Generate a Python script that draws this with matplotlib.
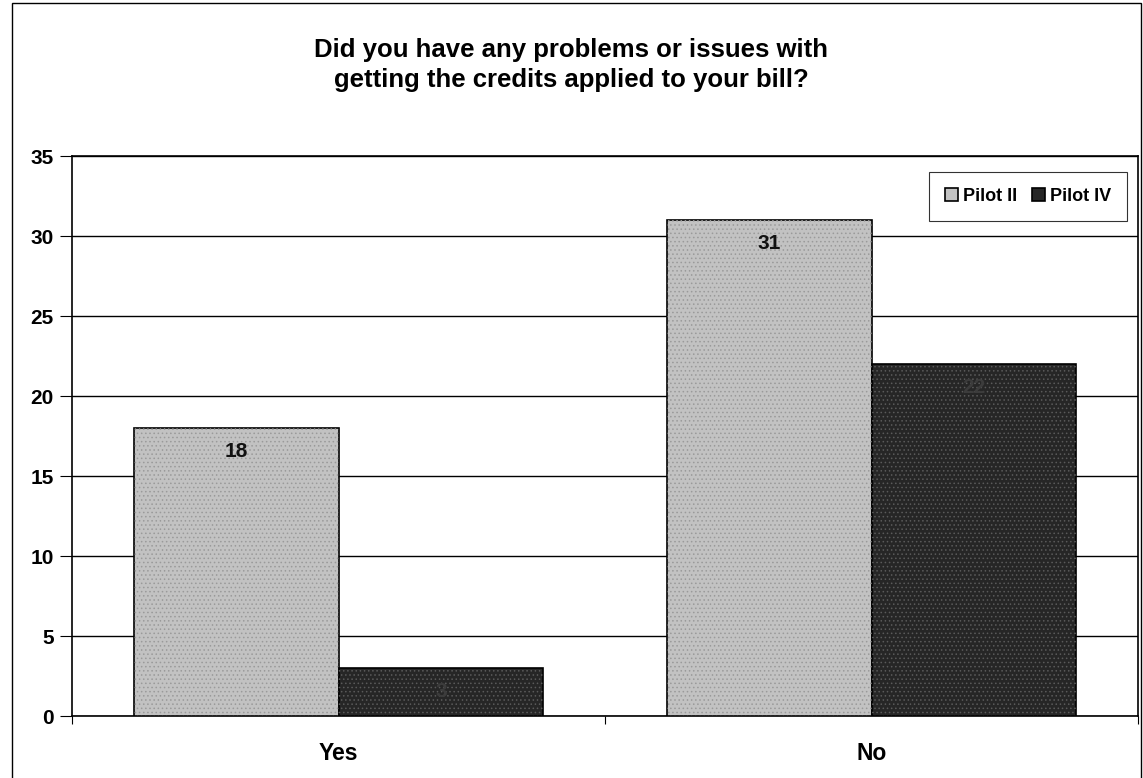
import matplotlib.pyplot as plt
import numpy as np
from matplotlib.patches import Rectangle

plt.rcParams["font.family"] = ["Liberation Sans", "DejaVu Sans"]
plt.rcParams["font.weight"] = "bold"
plt.rcParams["hatch.linewidth"] = 0.6

categories = ["Yes", "No"]
pilot_ii = [18, 31]
pilot_iv = [3, 22]
series_names = ["Pilot II", "Pilot IV"]
yticks = [0, 5, 10, 15, 20, 25, 30, 35]
title_lines = ["Did you have any problems or issues with",
               "getting the credits applied to your bill?"]

W, H = 1143, 778
fig = plt.figure(figsize=(W / 100, H / 100), dpi=100)
ax = fig.add_axes([72 / W, 1 - 716 / H, (1138 - 72) / W, (716 - 156) / H])

x = np.arange(len(categories))
bw = 0.3846
light = "#c2c2c2"
dark = "#262626"
b1 = ax.bar(x - bw / 2, pilot_ii, bw, color=light, edgecolor="black", lw=1.2,
            label=series_names[0], zorder=3)
b2 = ax.bar(x + bw / 2, pilot_iv, bw, color=dark, edgecolor="black", lw=1.2,
            label=series_names[1], zorder=3)
# speckled scan texture on top of the flat fills
ax.bar(x - bw / 2, pilot_ii, bw, fill=False, hatch="....", edgecolor="#9a9a9a", lw=0, zorder=3.5)
ax.bar(x + bw / 2, pilot_iv, bw, fill=False, hatch="....", edgecolor="#5a5a5a", lw=0, zorder=3.5)

# value labels sit just inside the bar top
for bars, vals, col in ((b1, pilot_ii, "#111111"), (b2, pilot_iv, "#3c3c3c")):
    for r, v in zip(bars, vals):
        ax.text(r.get_x() + r.get_width() / 2, v - 0.85, f"{v}", ha="center", va="top",
                fontsize=15, fontweight="bold", color=col, zorder=4)

ax.set_xlim(-0.5, 1.5)
ax.set_ylim(0, 35)
ax.set_yticks(yticks)
ax.set_yticklabels([str(t) for t in yticks], fontsize=15, fontweight="bold")
ax.set_xticks(x)
ax.set_xticklabels(categories, fontsize=16.5, fontweight="bold")
ax.tick_params(axis="x", length=0, pad=19)
ax.set_xticks([-0.5, 0.5, 1.5], minor=True)
ax.tick_params(axis="x", which="minor", length=6, width=0.8, direction="out")
ax.tick_params(axis="y", length=9, width=0.8, direction="out", pad=4)
ax.yaxis.grid(True, color="black", lw=1.0)
ax.set_axisbelow(True)
for s in ax.spines.values():
    s.set_linewidth(1.2)
    s.set_color("black")

# title, centred on the whole chart
for line, ybase in zip(title_lines, (57, 87)):
    fig.text(0.5, 1 - ybase / H, line, ha="center", va="baseline",
             fontsize=18.5, fontweight="bold")

leg = ax.legend(loc="upper right", ncol=2, fontsize=13, frameon=True, fancybox=False,
                edgecolor="black", handlelength=0.7, handleheight=0.7, handletextpad=0.3,
                columnspacing=0.8, borderpad=0.9, bbox_to_anchor=(0.9985, 0.988))
leg.get_frame().set_linewidth(0.8)
for t in leg.get_texts():
    t.set_fontweight("bold")

# outer chart border
fig.patches.append(Rectangle((12 / W, -0.01), (1141 - 12) / W, 1.01 - 3 / H,
                             transform=fig.transFigure, fill=False, edgecolor="black",
                             lw=1.0))

fig.savefig("out.png", dpi=100)
